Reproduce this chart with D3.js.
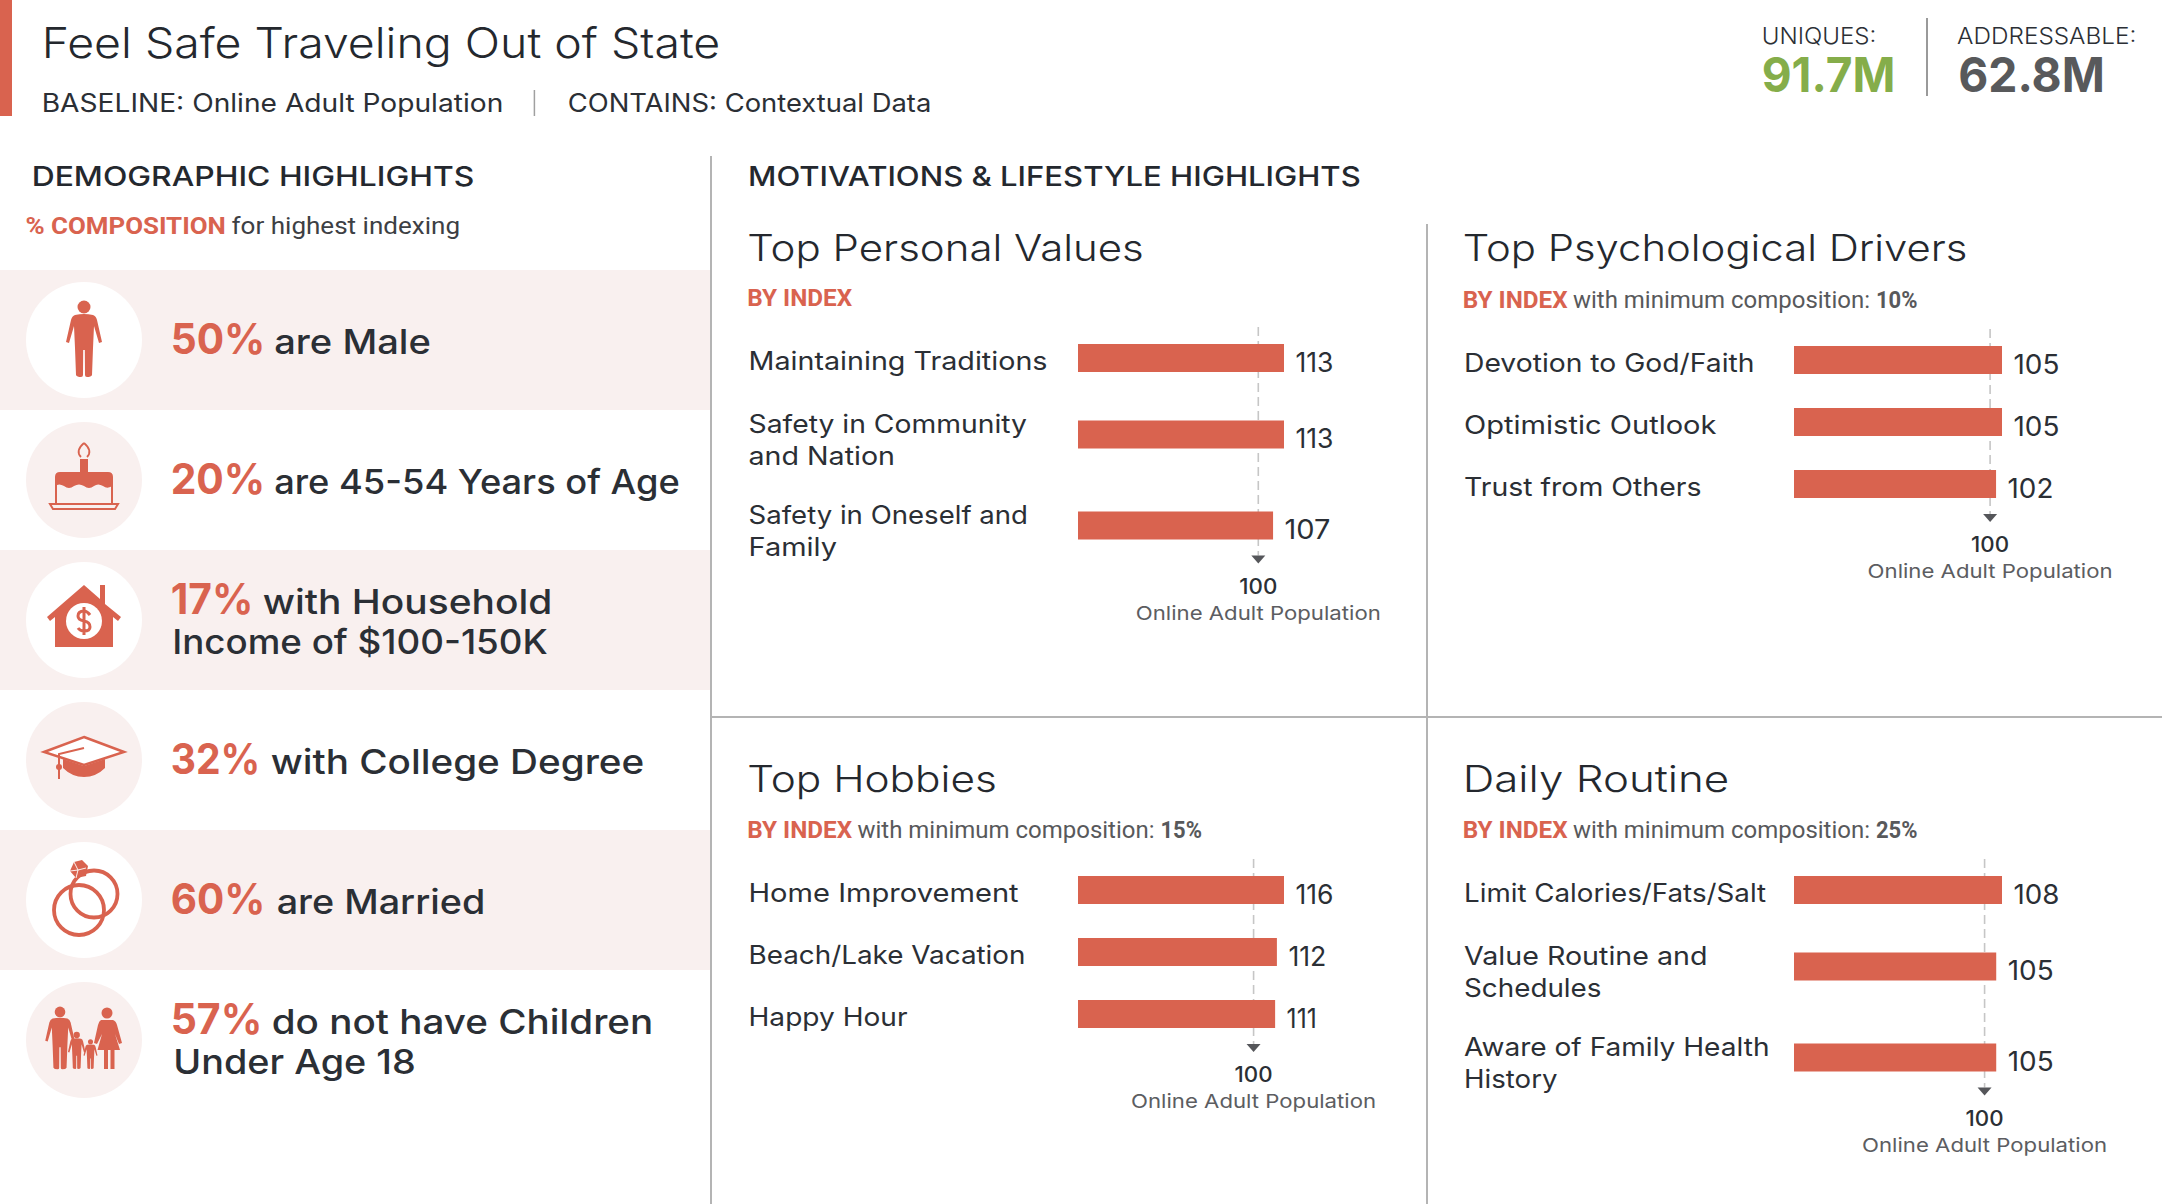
<!DOCTYPE html>
<html><head><meta charset="utf-8">
<script src="https://cdnjs.cloudflare.com/ajax/libs/d3/7.8.5/d3.min.js"></script>
<style>html,body{margin:0;padding:0;background:#fff;overflow:hidden}svg{display:block}</style>
</head><body><svg id="c" width="2162" height="1204"></svg>
<script>
// ---- data ----
const chartTitle = "Feel Safe Traveling Out of State";
const baselineText = "BASELINE: Online Adult Population";
const containsText = "CONTAINS: Contextual Data";
const uniquesLabel = "UNIQUES:", uniquesValue = "91.7M";
const addressableLabel = "ADDRESSABLE:", addressableValue = "62.8M";

const demoPercents = ["50%","20%","17%","32%","60%","57%"];
const demoFirstLines = ["are Male","are 45-54 Years of Age","with Household","with College Degree","are Married","do not have Children"];
const demoSecondLines = ["","","Income of $100-150K","","","Under Age 18"];

const personalLabels = ["Maintaining Traditions","Safety in Community\nand Nation","Safety in Oneself and\nFamily"];
const personalValues = [113,113,107];
const driverLabels = ["Devotion to God/Faith","Optimistic Outlook","Trust from Others"];
const driverValues = [105,105,102];
const hobbyLabels = ["Home Improvement","Beach/Lake Vacation","Happy Hour"];
const hobbyValues = [116,112,111];
const routineLabels = ["Limit Calories/Fats/Salt","Value Routine and\nSchedules","Aware of Family Health\nHistory"];
const routineValues = [108,105,105];
const referenceIndex = 100;
const referenceName = "Online Adult Population";

// ---- style ----
const RED="#d9634f", PINK="#f9f0ef", INK="#2b2f35", GREY="#58595b", RULE="#b4b4b4", GREEN="#85ad4a";
const SANS="Inter, 'Noto Sans', sans-serif", COND="Roboto, sans-serif";
const labelWidths={"Maintaining Traditions":297.5,"Safety in Community":277,"and Nation":145,"Safety in Oneself and":278,"Family":87,
 "Devotion to God/Faith":289,"Optimistic Outlook":251,"Trust from Others":236,
 "Home Improvement":268.6,"Beach/Lake Vacation":275.5,"Happy Hour":157.5,
 "Limit Calories/Fats/Salt":300.6,"Value Routine and":242,"Schedules":136,"Aware of Family Health":304,"History":92};
const svg=d3.select("#c");

function T(x,y,str,o={}){
  const pad=o.pad===undefined?1.3:o.pad;
  const t=svg.append("text").attr("x",o.anchor?x:x-pad).attr("y",y).text(str)
    .attr("font-family",o.font||SANS).attr("font-size",o.size||26)
    .attr("font-weight",o.weight||400).attr("fill",o.fill||INK)
    .attr("text-anchor",o.anchor||"start");
  const base=t.node().getComputedTextLength();
  const w=o.w?(o.anchor?o.w:o.w+2*pad):base;
  t.attr("textLength",w).attr("lengthAdjust","spacingAndGlyphs");
  return t;
}
function rule(x1,y1,x2,y2,c=RULE,w=2){svg.append("line").attr("x1",x1).attr("y1",y1).attr("x2",x2).attr("y2",y2).attr("stroke",c).attr("stroke-width",w);}
const valueWidth=v=>String(v).split("").reduce((a,c)=>a+(c==="1"?9.7:17.6),0);

// ---- header ----
svg.append("rect").attr("width",12).attr("height",116).attr("fill",RED);
T(43,58,chartTitle,{size:42.5,weight:300,w:676,fill:"#24282e"});
T(43,112,baselineText,{size:25.5,w:459});
rule(534.4,90,534.4,116,"#a0a0a0",1.5);
T(569,112,containsText,{size:25.5,w:361});
T(1763,44,uniquesLabel,{size:22.5,weight:300,w:112});
T(1763,92,uniquesValue,{size:48,weight:700,fill:GREEN,w:131});
rule(1927,18,1927,96,"#9a9a9a",2);
T(1958.4,44,addressableLabel,{size:22.5,weight:300,w:176.7});
T(1959.5,92,addressableValue,{size:48,weight:700,fill:GREY,w:144});

T(33,185.5,"DEMOGRAPHIC HIGHLIGHTS",{size:27.5,weight:500,w:440,fill:"#24282e"});
T(749.4,185.5,"MOTIVATIONS & LIFESTYLE HIGHLIGHTS",{size:27.5,weight:500,w:610,fill:"#24282e"});
T(26.8,234,"% COMPOSITION",{font:COND,size:24,weight:700,fill:RED,w:197.7});
T(232.8,234,"for highest indexing",{font:COND,size:24,weight:400,fill:"#3d4044",w:226});

// ---- demographic rows ----
const rowH=140, rowTop=270;
const percentW=[92,92,80,87,92,89], firstX=[275.5,275.5,264,272,278,273], firstW=[154,403,287,371,206,379], secondX=[0,0,173.5,0,0,174.5], secondW=[0,0,373,0,0,240];
const icons=[drawMale,drawCake,drawHouse,drawCap,drawRings,drawFamily];
demoPercents.forEach((p,i)=>{
  const top=rowTop+i*rowH, cy=top+rowH/2, odd=i%2===0;
  if(odd) svg.append("rect").attr("x",0).attr("y",top).attr("width",710).attr("height",rowH).attr("fill",PINK);
  svg.append("circle").attr("cx",84).attr("cy",cy).attr("r",58).attr("fill",odd?"#fff":PINK);
  const two=demoSecondLines[i]!=="";
  const by=two?cy-6:cy+14;
  T(172,by,p,{size:42,weight:700,fill:RED,w:percentW[i]});
  T(firstX[i],by,demoFirstLines[i],{size:34,weight:450,w:firstW[i]});
  if(two) T(secondX[i],by+39.5,demoSecondLines[i],{size:34,weight:450,w:secondW[i]});
  icons[i](svg.append("g").attr("transform",`translate(84,${cy})`));
});

function figure(g,s,x,y){
  const f=g.append("g").attr("transform",`translate(${x},${y}) scale(${s})`).attr("fill",RED);
  f.append("circle").attr("cy",-33).attr("r",6.5);
  f.append("path").attr("d","M-9,-25Q0,-27 9,-25Q12,-24 13,-20L18,2L15,3L10,-14L9,8L8,35Q7,37 3,37Q1,37 1,35L0.8,10H-0.8L-1,35Q-1,37 -3,37Q-7,37 -8,35L-9,8L-10,-14L-15,3L-18,2L-13,-20Q-12,-24 -9,-25Z");
}
function drawMale(g){figure(g,1,0,0);}
function drawCake(g){
  g.append("path").attr("d","M0,-37C-6,-32 -7,-27 -3,-23M0,-37C6,-32 7,-27 3,-23").attr("fill","none").attr("stroke",RED).attr("stroke-width",1.8);
  g.append("rect").attr("x",-4).attr("y",-21).attr("width",8).attr("height",14).attr("fill",RED);
  g.append("path").attr("fill",RED).attr("d","M-29,-2V-3Q-29,-8 -24,-8H24Q29,-8 29,-3V5Q24,10 19,6Q14,3 10,6Q5,10 0,6Q-5,3 -10,6Q-15,10 -20,6Q-25,3 -29,6Z");
  g.append("path").attr("fill","none").attr("stroke",RED).attr("stroke-width",2).attr("d","M-28,5V23M28,5V23");
  g.append("path").attr("fill","none").attr("stroke",RED).attr("stroke-width",2).attr("d","M-34,24H34L31,29H-31Z");
}
function drawHouse(g){
  g.append("path").attr("fill",RED).attr("d","M0,-35L16,-21V-35H21V-16L37,-3L34,1L29,-3V27H-29V-3L-34,1L-37,-3Z");
  g.append("circle").attr("r",18).attr("cy",1).attr("fill","#fff");
  g.append("path").attr("fill","none").attr("stroke",RED).attr("stroke-width",3).attr("d","M6,-5Q3,-9 0,-9Q-6,-9 -6,-4Q-6,0 0,1Q6,2 6,7Q6,11 0,11Q-4,11 -6,8M0,-13V15");
}
function drawCap(g){
  g.append("path").attr("fill","#fff").attr("stroke",RED).attr("stroke-width",2.5).attr("d","M0,-23L40,-8L0,5L-40,-8Z");
  g.append("path").attr("fill",RED).attr("d","M-21,-1L0,6L21,-1V8Q12,17 0,17Q-12,17 -21,8Z");
  g.append("path").attr("fill","none").attr("stroke",RED).attr("stroke-width",2).attr("d","M0,-12L-25,-6V19");
  g.append("circle").attr("cx",-25).attr("cy",7).attr("r",3).attr("fill",RED);
}
function drawRings(g){
  const a=g.append("g").attr("fill","none").attr("stroke",RED).attr("stroke-width",3.8);
  a.append("circle").attr("cx",-5).attr("cy",10).attr("r",25);
  a.append("circle").attr("cx",10).attr("cy",-6).attr("r",23.5);
  g.append("path").attr("fill",RED).attr("d","M-14,-29L-10,-38L-2,-40L4,-34L2,-24L-8,-22Z");
  g.append("path").attr("fill","none").attr("stroke","#fff").attr("stroke-width",.9).attr("d","M-10,-38L-6,-30L2,-32M-6,-30L-8,-22M-14,-29L-6,-30");
}
function drawFamily(g){
  figure(g,.82,-24,-1);
  figure(g,.486,-7.3,11);
  figure(g,.39,6.5,14.6);
  g.append("circle").attr("cx",23).attr("cy",-27).attr("r",5.5).attr("fill",RED);
  g.append("path").attr("fill",RED).attr("d","M17,-20H29Q32,-19 33,-15L38,3L35,4L31,-6L36,10H30.5V29H26.5V10H24V29H20V10H13.5L18,-6L13,4L10,3L14,-15Q15,-19 17,-20Z");
}

// ---- panels ----
const panels=[
 {title:"Top Personal Values",note:null,labels:personalLabels,values:personalValues,x:748.5,barX:1078,span:206,titleY:261,subY:306,firstBar:344,titleW:394},
 {title:"Top Psychological Drivers",note:"10%",labels:driverLabels,values:driverValues,x:1464,barX:1794,span:208,titleY:261,subY:308,firstBar:346,titleW:502},
 {title:"Top Hobbies",note:"15%",labels:hobbyLabels,values:hobbyValues,x:748.5,barX:1078,span:206,titleY:792,subY:838,firstBar:876,titleW:247},
 {title:"Daily Routine",note:"25%",labels:routineLabels,values:routineValues,x:1464,barX:1794,span:208,titleY:792,subY:838,firstBar:876,titleW:264}
];
const barH=28, refNudge=2;
rule(711,156,711,1204);
rule(1427,224,1427,1204);
rule(711,717,2162,717);

panels.forEach(p=>{
  T(p.x,p.titleY,p.title,{size:37,weight:300,w:p.titleW,fill:"#24282e"});
  T(p.x,p.subY,"BY INDEX",{font:COND,size:24,weight:700,fill:RED,w:102.4});
  if(p.note){
    T(p.x+109,p.subY,"with minimum composition:",{font:COND,size:24,fill:GREY,w:297,pad:0});
    T(p.x+412,p.subY,p.note,{font:COND,size:24,weight:700,fill:GREY,w:41.5,pad:0});
  }
  const xs=d3.scaleLinear().domain([0,d3.max(p.values)]).range([0,p.span]);
  const lines=p.labels.map(l=>l.split("\n"));
  const hs=lines.map(l=>l.length>1?91:62);
  const tops=[p.firstBar];
  for(let i=1;i<hs.length;i++) tops.push(tops[i-1]+(hs[i-1]+hs[i])/2);
  const rx=p.barX+xs(referenceIndex)-refNudge, last=tops[tops.length-1]+barH, arrow=last+16;
  svg.append("line").attr("x1",rx).attr("x2",rx).attr("y1",p.firstBar-17).attr("y2",arrow)
     .attr("stroke","#c6c6c6").attr("stroke-width",1.6).attr("stroke-dasharray","9,5");
  svg.selectAll(null).data(p.values).enter().append("rect")
     .attr("x",p.barX).attr("y",(d,i)=>tops[i]).attr("width",d=>xs(d)).attr("height",barH).attr("fill",RED);
  p.values.forEach((v,i)=>{
    T(p.barX+xs(v)+11.5,Math.round(tops[i]-0.1)+28,String(v),{size:26.5,w:valueWidth(v)+1,pad:0});
    lines[i].forEach((s,k)=>{
      const y=lines[i].length>1?tops[i]+12+k*32:tops[i]+26;
      T(p.x,y,s,{size:25.5,w:labelWidths[s]+1.5,pad:0});
    });
  });
  svg.append("path").attr("d",`M${rx-7},${arrow}H${rx+7}L${rx},${arrow+8}Z`).attr("fill","#55565a");
  T(rx,arrow+38,String(referenceIndex),{size:21,weight:500,anchor:"middle",w:38});
  T(rx,arrow+64,referenceName,{size:19,fill:"#5c5d61",anchor:"middle",w:245});
});
</script></body></html>
